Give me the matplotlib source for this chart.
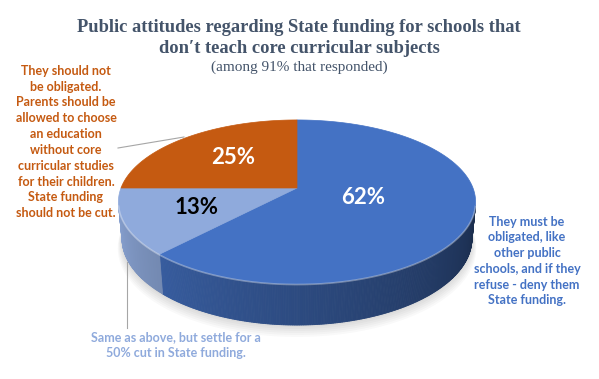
import numpy as np
import matplotlib.pyplot as plt
from matplotlib.patches import Polygon
from matplotlib.colors import to_rgb

# data
shares = [62, 13, 25]
pct_labels = ["62%", "13%", "25%"]
answers = [
    "They must be\nobligated, like\nother public\nschools, and if they\nrefuse - deny them\nState funding.",
    "Same as above, but settle for a\n50% cut in State funding.",
    "They should not\nbe obligated.\nParents should be\nallowed to choose\nan education\nwithout core\ncurricular studies\nfor their children.\nState funding\nshould not be cut.",
]
slice_colors = ["#4472C4", "#8FAADC", "#C55A11"]
pct_colors = ["white", "black", "white"]

# 3d view of the pie (perspective)
ELEV = np.radians(26.9)
DIST = 5.24
H = 0.235
CX, CY, RPX = 297, 188, 176


def proj(x, y, z):
    c, s = np.cos(ELEV), np.sin(ELEV)
    depth = DIST + y * c - z * s
    k = RPX * DIST
    return CX + k * x / depth, CY - k * (y * s + z * c) / depth


def rim(t, z=0.0, r=1.0):
    t = np.radians(t)
    return proj(r * np.cos(t), r * np.sin(t), z)


fig = plt.figure(figsize=(5.99, 3.79), dpi=100)
ax = fig.add_axes([0, 0, 1, 1])
ax.set_xlim(0, 599)
ax.set_ylim(379, 0)
ax.axis("off")

# soft shadow under the pie
tt = np.linspace(0, 360, 200)
for k in range(7):
    bx, by = rim(tt, -H, 1.0 + 0.004 * k)
    ax.add_patch(Polygon(np.column_stack([bx, by + 1.5 * k]), closed=True,
                         facecolor="black", edgecolor="none", alpha=0.025, zorder=0))

# slices go clockwise from 12 o'clock
edges = 90 - np.concatenate([[0], np.cumsum(shares)]) * 3.6
lim = np.degrees(np.arcsin(1 / (DIST * np.cos(ELEV))))
vis_lo, vis_hi = 180 + lim, 360 - lim

for i, col in enumerate(slice_colors):
    lo, hi = edges[i + 1], edges[i]
    base = np.array(to_rgb(col))

    # side wall, shaded from left to right
    ts = np.linspace(lo, hi, int(abs(hi - lo) * 2) + 2)
    tm = np.mod(ts, 360)
    for a, b, am in zip(ts[:-1], ts[1:], tm[:-1]):
        if not (vis_lo <= am <= vis_hi):
            continue
        u = (am - vis_lo) / (vis_hi - vis_lo)
        f = 0.95 - 0.55 * u ** 0.9
        shade = np.clip(base * f, 0, 1)
        x1, y1 = rim(np.array([a, b]), 0)
        x2, y2 = rim(np.array([b, a]), -H)
        ax.add_patch(Polygon(np.column_stack([np.r_[x1, x2], np.r_[y1, y2]]), closed=True,
                             facecolor=shade, edgecolor=shade, lw=0.6, zorder=1))

    # top face
    arc = np.linspace(lo, hi, 120)
    ax_, ay_ = rim(arc, 0)
    px = np.r_[CX, ax_]
    py = np.r_[CY, ay_]
    ax.add_patch(Polygon(np.column_stack([px, py]), closed=True,
                         facecolor=col, edgecolor=col, lw=0.5, zorder=2))

# light edge where top meets the wall
ft = np.linspace(vis_lo, vis_hi, 200)
hx, hy = rim(ft, 0)
ax.plot(hx, hy + 0.6, color="white", alpha=0.35, lw=1.2, zorder=3)

# percentage labels
pct_pos = [(363, 197), (197, 207), (233, 158)]
for lab, (x, y), c in zip(pct_labels, pct_pos, pct_colors):
    ax.text(x, y, lab, color=c, fontsize=16, fontweight="bold", family="Lato",
            ha="center", va="center", zorder=5)

# category labels with leader lines
ax.text(527, 261, answers[0], color=slice_colors[0], fontsize=9, fontweight="bold",
        family="Lato", ha="center", va="center", linespacing=1.38)
ax.text(176, 345, answers[1], color=slice_colors[1], fontsize=9, fontweight="bold",
        family="Lato", ha="center", va="center", linespacing=1.38)
ax.text(66, 142, answers[2], color=slice_colors[2], fontsize=9, fontweight="bold",
        family="Lato", ha="center", va="center", linespacing=1.38)
ax.plot([118, 184], [148, 137], color="#A6A6A6", lw=0.8, zorder=4)
ax.plot([127, 127], [262, 328], color="#A6A6A6", lw=0.8, zorder=4)

# title
ax.text(299, 28, "Public attitudes regarding State funding for schools that",
        family="Liberation Serif", fontweight="bold", fontsize=13.3, color="#44546A",
        ha="center", va="center")
ax.text(299, 48.5, "don\u2032t teach core curricular subjects",
        family="Liberation Serif", fontweight="bold", fontsize=13.3, color="#44546A",
        ha="center", va="center")
ax.text(299, 67.5, "(among 91% that responded)", family="Liberation Serif",
        fontsize=11, color="#44546A", ha="center", va="center")

fig.savefig("out.png", dpi=100)
